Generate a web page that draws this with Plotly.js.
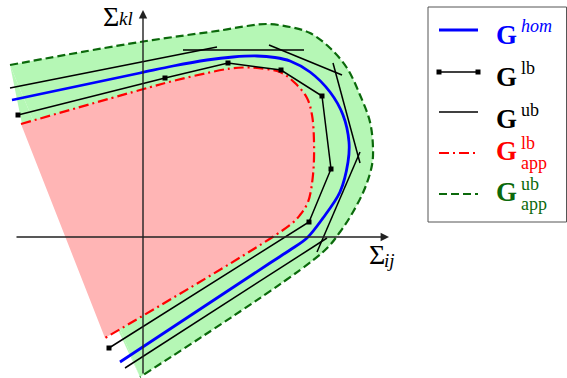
<!DOCTYPE html>
<html>
<head>
<meta charset="utf-8">
<script src="https://cdn.plot.ly/plotly-3.0.1.min.js"></script>
<style>
  html, body { margin: 0; padding: 0; background: #fff; }
  #chart { width: 567px; height: 378px; }
</style>
</head>
<body>
<div id="chart"></div>
<script>
'use strict';

// curves, origin at the axes crossing, y up
const appUbX = [-133, -3, 80, 104, 124, 147, 167, 187, 204, 217, 227, 230, 229, 222, 210, 197, 180, -3];
const appUbY = [172, 195, 207, 211, 213, 210, 204, 189, 169, 142, 115, 89, 72, 49, 25, 5, -15, -140];

// left edge of the green band (not stroked)
const bandEdgeX = [-133, -121, -3];
const bandEdgeY = [172, 113, -140];

const homX = [-131, -3, 30, 64, 90, 114, 132, 147, 167, 187, 200, 206, 205, 197, 180, 164, 147, 127, -23];
const homY = [137, 164, 171, 177, 180, 181, 179.5, 176, 165, 145, 122, 95, 75, 45, 19, -1, -13, -26, -125];

const appLbX = [-122, -3, 30, 64, 87, 100, 114, 137, 152, 164, 169, 171, 170, 165, 157, 147, -38];
const appLbY = [113, 147, 156, 164, 168.5, 169.5, 169, 165, 154, 139, 122, 95, 62, 35, 22, 12, -101];

const lbX = [-125, 22, 85, 138, 179, 188, 166, -34];
const lbY = [122, 159, 174, 167, 141, 68, 15, -111];

// upper bound: separate supporting lines, null breaks them apart
const ubX = [-133, 74, null, 40, 161, null, 126, 199, null, 190, 217, null, 217, 174, null, 184, -18];
const ubY = [149, 190, null, 187, 187, null, 192, 162, null, 174, 74, null, 85, -15, null, -1, -131];

const W = 567, H = 378;
const OX = 143, OY = 237;

const GREEN = '#0b690b';
const FONT = 'Liberation Serif, DejaVu Serif, serif';

const px = v => v / W;
const py = v => 1 - v / H;

const traces = [
  {
    x: appUbX, y: appUbY, mode: 'lines', fill: 'toself',
    fillcolor: '#b5f7b5', line: { width: 0, shape: 'spline', smoothing: 1 },
    hoverinfo: 'skip'
  },
  {
    x: bandEdgeX, y: bandEdgeY, mode: 'lines', fill: 'toself',
    fillcolor: '#b5f7b5', line: { width: 0 }, hoverinfo: 'skip'
  },
  {
    x: appLbX, y: appLbY, mode: 'lines', fill: 'toself',
    fillcolor: '#ffb5b5', line: { width: 0, shape: 'spline', smoothing: 1 },
    hoverinfo: 'skip'
  },
  {
    x: appUbX, y: appUbY, mode: 'lines',
    line: { color: GREEN, width: 2.2, dash: '8px,4px', shape: 'spline', smoothing: 1 }
  },
  {
    x: appLbX, y: appLbY, mode: 'lines',
    line: { color: '#ff0000', width: 2.2, dash: '10px,4px,2px,4px', shape: 'spline', smoothing: 1 }
  },
  {
    x: ubX, y: ubY, mode: 'lines', connectgaps: false,
    line: { color: '#000', width: 1.5 }
  },
  {
    x: lbX, y: lbY, mode: 'lines+markers',
    line: { color: '#000', width: 1.5 },
    marker: { symbol: 'square', size: 5, color: '#000' }
  },
  {
    x: homX, y: homY, mode: 'lines',
    line: { color: '#0000ff', width: 2.8, shape: 'spline', smoothing: 0.9 }
  }
];

// hand-made legend, positions in pixels of the 567x378 figure
const legendRows = [
  { y: 30,  color: '#0000ff', width: 2.8, dash: 'solid', sup: '<i>hom</i>', sub: null, cy: 35 },
  { y: 72,  color: '#000',    width: 1.5, dash: 'solid', sup: 'lb', sub: null, cy: 77, marks: true },
  { y: 112, color: '#000',    width: 1.5, dash: 'solid', sup: 'ub', sub: null, cy: 119 },
  { y: 153, color: '#ff0000', width: 2.2, dash: '10px,4px,2px,4px', sup: 'lb', sub: 'app', cy: 151 },
  { y: 194, color: GREEN,     width: 2.2, dash: '8px,4px', sup: 'ub', sub: 'app', cy: 192 }
];

const shapes = [
  {
    type: 'rect', xref: 'paper', yref: 'paper',
    x0: px(428), x1: px(566.5), y0: py(7), y1: py(222),
    line: { color: '#555', width: 1 }, fillcolor: 'rgba(0,0,0,0)'
  }
];
const annotations = [
  {
    xref: 'x', yref: 'y', axref: 'x', ayref: 'y',
    x: 246, y: 0, ax: -128, ay: 0, text: '', showarrow: true,
    arrowhead: 2, arrowsize: 1.2, arrowwidth: 1.4, arrowcolor: '#222', standoff: 0
  },
  {
    xref: 'x', yref: 'y', axref: 'x', ayref: 'y',
    x: 0, y: 227, ax: 0, ay: -138, text: '', showarrow: true,
    arrowhead: 2, arrowsize: 1.2, arrowwidth: 1.4, arrowcolor: '#222', standoff: 0
  },
  { xref: 'paper', yref: 'paper', x: px(102), y: 1, xanchor: 'left', yanchor: 'top', borderpad: 0,
    text: 'Σ', showarrow: false, font: { family: FONT, size: 28, color: '#000' } },
  { xref: 'paper', yref: 'paper', x: px(117), y: py(19), xanchor: 'left', yanchor: 'middle',
    text: '<i>kl</i>', showarrow: false, font: { family: FONT, size: 19, color: '#000' } },
  { xref: 'paper', yref: 'paper', x: px(367), y: py(254), xanchor: 'left', yanchor: 'middle',
    text: 'Σ', showarrow: false, font: { family: FONT, size: 28, color: '#000' } },
  { xref: 'paper', yref: 'paper', x: px(382), y: py(260), xanchor: 'left', yanchor: 'middle',
    text: '<i>ij</i>', showarrow: false, font: { family: FONT, size: 19, color: '#000' } }
];

legendRows.forEach(r => {
  shapes.push({
    type: 'line', xref: 'paper', yref: 'paper',
    x0: px(439), x1: px(478), y0: py(r.y), y1: py(r.y),
    line: { color: r.color, width: r.width, dash: r.dash }
  });
  if (r.marks) {
    [439, 478].forEach(m => shapes.push({
      type: 'rect', xref: 'paper', yref: 'paper',
      x0: px(m - 2.5), x1: px(m + 2.5), y0: py(r.y - 2.5), y1: py(r.y + 2.5),
      line: { width: 0 }, fillcolor: r.color
    }));
  }
  annotations.push({
    xref: 'paper', yref: 'paper', x: px(494), y: py(r.cy), xanchor: 'left', yanchor: 'middle',
    text: '<b>G</b>', showarrow: false, font: { family: FONT, size: 27, color: r.color }
  });
  const supY = r.sub ? r.cy - 8 : r.cy - 9;
  annotations.push({
    xref: 'paper', yref: 'paper', x: px(519), y: py(supY), xanchor: 'left', yanchor: 'middle',
    text: r.sup, showarrow: false, font: { family: FONT, size: 18, color: r.color }
  });
  if (r.sub) {
    annotations.push({
      xref: 'paper', yref: 'paper', x: px(519), y: py(r.cy + 12), xanchor: 'left', yanchor: 'middle',
      text: r.sub, showarrow: false, font: { family: FONT, size: 18, color: r.color }
    });
  }
});

const layout = {
  width: W, height: H,
  margin: { t: 0, b: 0, l: 0, r: 0 },
  paper_bgcolor: '#fff',
  plot_bgcolor: '#fff',
  showlegend: false,
  xaxis: { range: [-OX, W - OX], visible: false, fixedrange: true },
  yaxis: { range: [OY - H, OY], visible: false, fixedrange: true },
  shapes: shapes,
  annotations: annotations
};

Plotly.newPlot('chart', traces, layout, { displayModeBar: false, staticPlot: true });
</script>
</body>
</html>
